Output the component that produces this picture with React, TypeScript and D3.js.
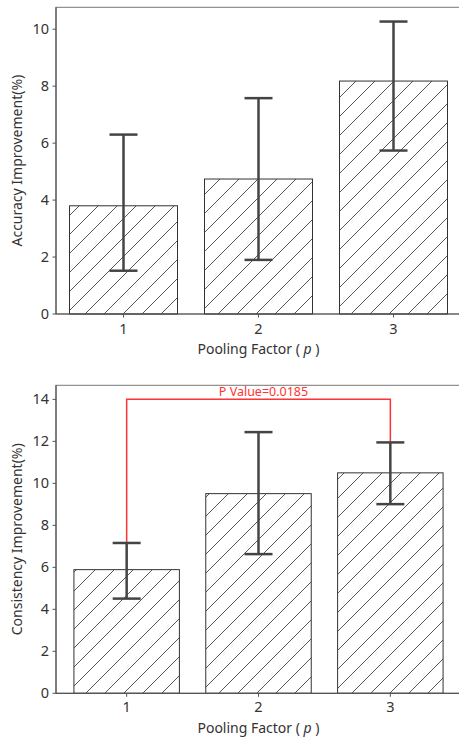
import React from "react";
import * as d3 from "d3";

const categories = ["1", "2", "3"];
const accuracy = [3.8, 4.74, 8.18];
const accuracyLow = [1.52, 1.9, 5.74];
const accuracyHigh = [6.3, 7.58, 10.27];
const accuracyTicks = [0, 2, 4, 6, 8, 10];

const consistency = [5.89, 9.51, 10.5];
const consistencyLow = [4.51, 6.63, 9.01];
const consistencyHigh = [7.16, 12.44, 11.95];
const consistencyTicks = [0, 2, 4, 6, 8, 10, 12, 14];

const pValueText = "P Value=0.0185";
const pValueLevel = 14;
const pValuePair = [0, 2];

const FONT = "'Noto Sans', 'Open Sans', sans-serif";
const TEXT = "#333";
const SPINE = "#555";
const ERR = "#444";

type PanelProps = {
  top: number;
  bottom: number;
  xPad: number;
  yMax: number;
  values: number[];
  low: number[];
  high: number[];
  ticks: number[];
  yTitle: string;
  tickBaseline: number;
  titleBaseline: number;
  patternId: string;
  children?: (x: d3.ScaleLinear<number, number>, y: d3.ScaleLinear<number, number>) => React.ReactNode;
};

function Panel(p: PanelProps) {
  const left = 56;
  const right = 461;
  const x = d3.scaleLinear().domain([-p.xPad, categories.length - 1 + p.xPad]).range([left, right]);
  const y = d3.scaleLinear().domain([0, p.yMax]).range([p.bottom, p.top]);
  const barW = x(0.4) - x(0);
  const capW = 14;
  return (
    <g>
      <defs>
        <pattern id={p.patternId} patternUnits="userSpaceOnUse" width={19} height={19}>
          <line x1={0} y1={19} x2={19} y2={0} stroke="#444" strokeWidth={0.9} />
          <line x1={-2} y1={2} x2={2} y2={-2} stroke="#444" strokeWidth={0.9} />
          <line x1={17} y1={21} x2={21} y2={17} stroke="#444" strokeWidth={0.9} />
        </pattern>
      </defs>
      <rect x={left} y={p.top} width={right - left} height={p.bottom - p.top} fill="none" stroke="#777" strokeWidth={1} />
      {p.values.map((v, i) => (
        <rect
          key={"b" + i}
          x={x(i) - barW}
          y={y(v)}
          width={barW * 2}
          height={y(0) - y(v)}
          fill={`url(#${p.patternId})`}
          stroke="#333"
          strokeWidth={1}
        />
      ))}
      <line x1={left} x2={right} y1={p.bottom} y2={p.bottom} stroke={SPINE} strokeWidth={1.2} />
      <line x1={left} x2={left} y1={p.top} y2={p.bottom} stroke={SPINE} strokeWidth={1.2} />
      {p.children && p.children(x, y)}
      {p.values.map((_, i) => (
        <g key={"e" + i} stroke={ERR} strokeWidth={2.5}>
          <line x1={x(i)} x2={x(i)} y1={y(p.low[i])} y2={y(p.high[i])} />
          <line x1={x(i) - capW} x2={x(i) + capW} y1={y(p.low[i])} y2={y(p.low[i])} />
          <line x1={x(i) - capW} x2={x(i) + capW} y1={y(p.high[i])} y2={y(p.high[i])} />
        </g>
      ))}
      {p.ticks.map((t) => (
        <g key={"t" + t}>
          <line x1={left - 3.5} x2={left} y1={y(t)} y2={y(t)} stroke={SPINE} strokeWidth={1} />
          <text x={left - 7} y={y(t)} dy="0.35em" textAnchor="end" fontSize={14.5} fill={TEXT} fontFamily={FONT}>
            {t}
          </text>
        </g>
      ))}
      {categories.map((c, i) => (
        <g key={"c" + i}>
          <line x1={x(i)} x2={x(i)} y1={p.bottom} y2={p.bottom + 3.5} stroke={SPINE} strokeWidth={1} />
          <text x={x(i)} y={p.tickBaseline} textAnchor="middle" fontSize={14.5} fill={TEXT} fontFamily={FONT}>
            {c}
          </text>
        </g>
      ))}
      <text x={(left + right) / 2} y={p.titleBaseline} textAnchor="middle" fontSize={14} fill={TEXT} fontFamily={FONT}>
        Pooling Factor ( <tspan fontStyle="italic">p</tspan> )
      </text>
      <text
        transform={`translate(22,${(p.top + p.bottom) / 2}) rotate(-90)`}
        textAnchor="middle"
        fontSize={14}
        fill={TEXT}
        fontFamily={FONT}
      >
        {p.yTitle}
      </text>
    </g>
  );
}

export default function App() {
  return (
    <svg width={459} height={740} style={{ position: "absolute", left: 0, top: 0, background: "#fff" }}>
      <rect width={459} height={740} fill="#fff" />
      <Panel
        top={7.3}
        bottom={314}
        xPad={0.5}
        yMax={10.77}
        values={accuracy}
        low={accuracyLow}
        high={accuracyHigh}
        ticks={accuracyTicks}
        yTitle="Accuracy Improvement(%)"
        tickBaseline={333.5}
        titleBaseline={354}
        patternId="hatchA"
      />
      <Panel
        top={385.3}
        bottom={693.3}
        xPad={0.536}
        yMax={14.67}
        values={consistency}
        low={consistencyLow}
        high={consistencyHigh}
        ticks={consistencyTicks}
        yTitle="Consistency Improvement(%)"
        tickBaseline={712}
        titleBaseline={732.5}
        patternId="hatchB"
      >
        {(x, y) => {
          const [a, b] = pValuePair;
          const path = d3.path();
          path.moveTo(x(a), y(consistencyHigh[a]));
          path.lineTo(x(a), y(pValueLevel));
          path.lineTo(x(b), y(pValueLevel));
          path.lineTo(x(b), y(consistencyHigh[b]));
          return (
            <g>
              <path d={path.toString()} fill="none" stroke="#f33" strokeWidth={1.5} />
              <text
                x={(x(a) + x(b)) / 2 + 5}
                y={y(pValueLevel) - 3.5}
                textAnchor="middle"
                fontSize={12.5}
                fill="#f33"
                fontFamily={FONT}
              >
                {pValueText}
              </text>
            </g>
          );
        }}
      </Panel>
    </svg>
  );
}
